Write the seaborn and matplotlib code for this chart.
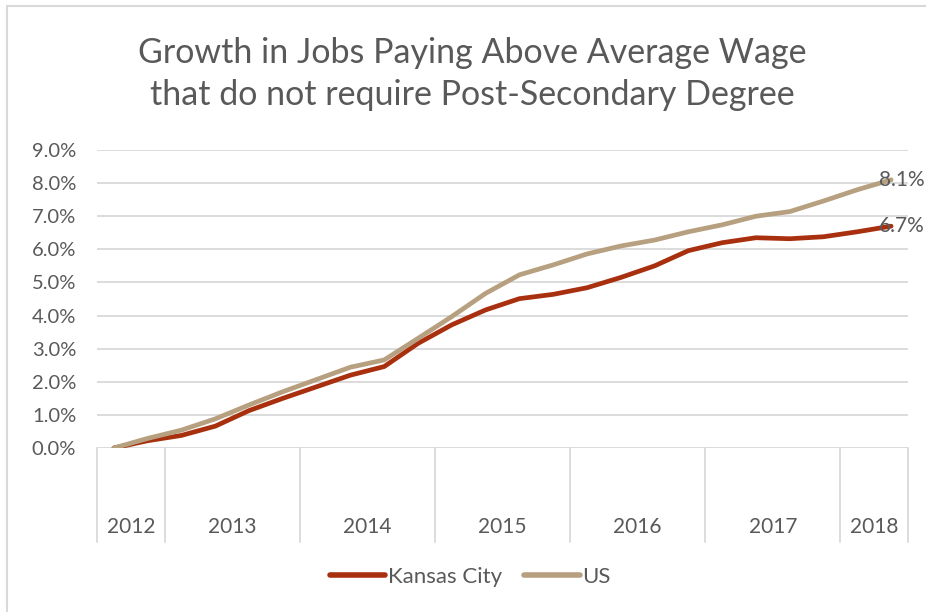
import matplotlib
matplotlib.use("Agg")
import matplotlib.pyplot as plt
import matplotlib.transforms as mtransforms
from matplotlib.patches import Rectangle
import seaborn as sns
import pandas as pd
import numpy as np

# --- Données (trimestrielles, 2012 T3 -> 2018 T2) ---
years = ["2012", "2013", "2014", "2015", "2016", "2017", "2018"]
quarters_per_year = [2, 4, 4, 4, 4, 4, 2]
kansas_city = [0.00, 0.22, 0.38, 0.66, 1.13, 1.50, 1.85, 2.20,
               2.46, 3.16, 3.72, 4.17, 4.51, 4.64, 4.84, 5.15,
               5.50, 5.96, 6.20, 6.35, 6.32, 6.38, 6.53, 6.70]
us = [0.00, 0.29, 0.54, 0.88, 1.30, 1.70, 2.07, 2.44,
      2.66, 3.31, 3.97, 4.67, 5.23, 5.53, 5.86, 6.10,
      6.28, 6.53, 6.74, 7.00, 7.14, 7.46, 7.80, 8.10]
series_names = ["Kansas City", "US"]
colors = {"Kansas City": "#A8300F", "US": "#B7A07F"}

idx = np.arange(len(us))
df = pd.DataFrame({
    "idx": np.concatenate([idx, idx]),
    "valeur": kansas_city + us,
    "serie": ["Kansas City"] * len(idx) + ["US"] * len(idx),
})

sns.set_style("white")
plt.rcParams["font.family"] = ["Lato", "DejaVu Sans"]
text_color = "#595959"
grid_color = "#D9D9D9"

fig = plt.figure(figsize=(9.26, 6.12), dpi=100)
ax = fig.add_axes([97 / 926, 1 - 448 / 612, 811 / 926, 298 / 612])

sns.lineplot(data=df, x="idx", y="valeur", hue="serie", hue_order=series_names,
             palette=colors, linewidth=3.4, ax=ax, legend=False,
             solid_capstyle="round")

ax.set_xlim(-0.5, len(idx) - 0.5)
ax.set_ylim(0, 9)
ax.set_yticks(np.arange(0, 10, 1))
ax.set_yticklabels([f"{v:.1f}%" for v in range(10)], fontsize=14.5, color=text_color)
ax.tick_params(axis="y", length=0, pad=15)
ax.set_xticks([])
ax.set_xlabel("")
ax.set_ylabel("")
for s in ax.spines.values():
    s.set_visible(False)
ax.grid(axis="y", color=grid_color, linewidth=1.3)
ax.set_axisbelow(True)

# axe des catégories : séparateurs d'années et libellés
trans = mtransforms.blended_transform_factory(ax.transData, ax.transAxes)
bounds = np.concatenate([[0], np.cumsum(quarters_per_year)]) - 0.5
for b in bounds:
    ax.plot([b, b], [0, -0.315], transform=trans, color=grid_color,
            linewidth=1.3, clip_on=False)
for i, y in enumerate(years):
    ax.text((bounds[i] + bounds[i + 1]) / 2, -0.265, y, transform=trans,
            ha="center", va="center", fontsize=15, color=text_color)

# étiquettes de fin
ax.text(len(idx) - 1.35, us[-1], f"{us[-1]:.1f}%", fontsize=15,
        color=text_color, va="center", ha="left", clip_on=False)
ax.text(len(idx) - 1.35, kansas_city[-1], f"{kansas_city[-1]:.1f}%", fontsize=15,
        color=text_color, va="center", ha="left", clip_on=False)

fig.text(472 / 926, 1 - 74 / 612,
         "Growth in Jobs Paying Above Average Wage\nthat do not require Post-Secondary Degree",
         ha="center", va="center", fontsize=24.5, color=text_color, linespacing=1.38)

handles = [plt.Line2D([], [], color=colors[n], linewidth=4, solid_capstyle="round")
           for n in series_names]
fig.legend(handles, series_names, loc="center", bbox_to_anchor=(470 / 926, 1 - 577 / 612),
           ncol=2, frameon=False, fontsize=16, handlelength=2.5, handletextpad=0.1,
           columnspacing=1.0, labelcolor=text_color)

# bordure du graphique
fig.patches.append(Rectangle((7 / 926, -0.1), 1.2, 1 - 6 / 612 + 0.1, transform=fig.transFigure,
                             fill=False, edgecolor=grid_color, linewidth=1.5))

fig.savefig("out.png", dpi=100)
